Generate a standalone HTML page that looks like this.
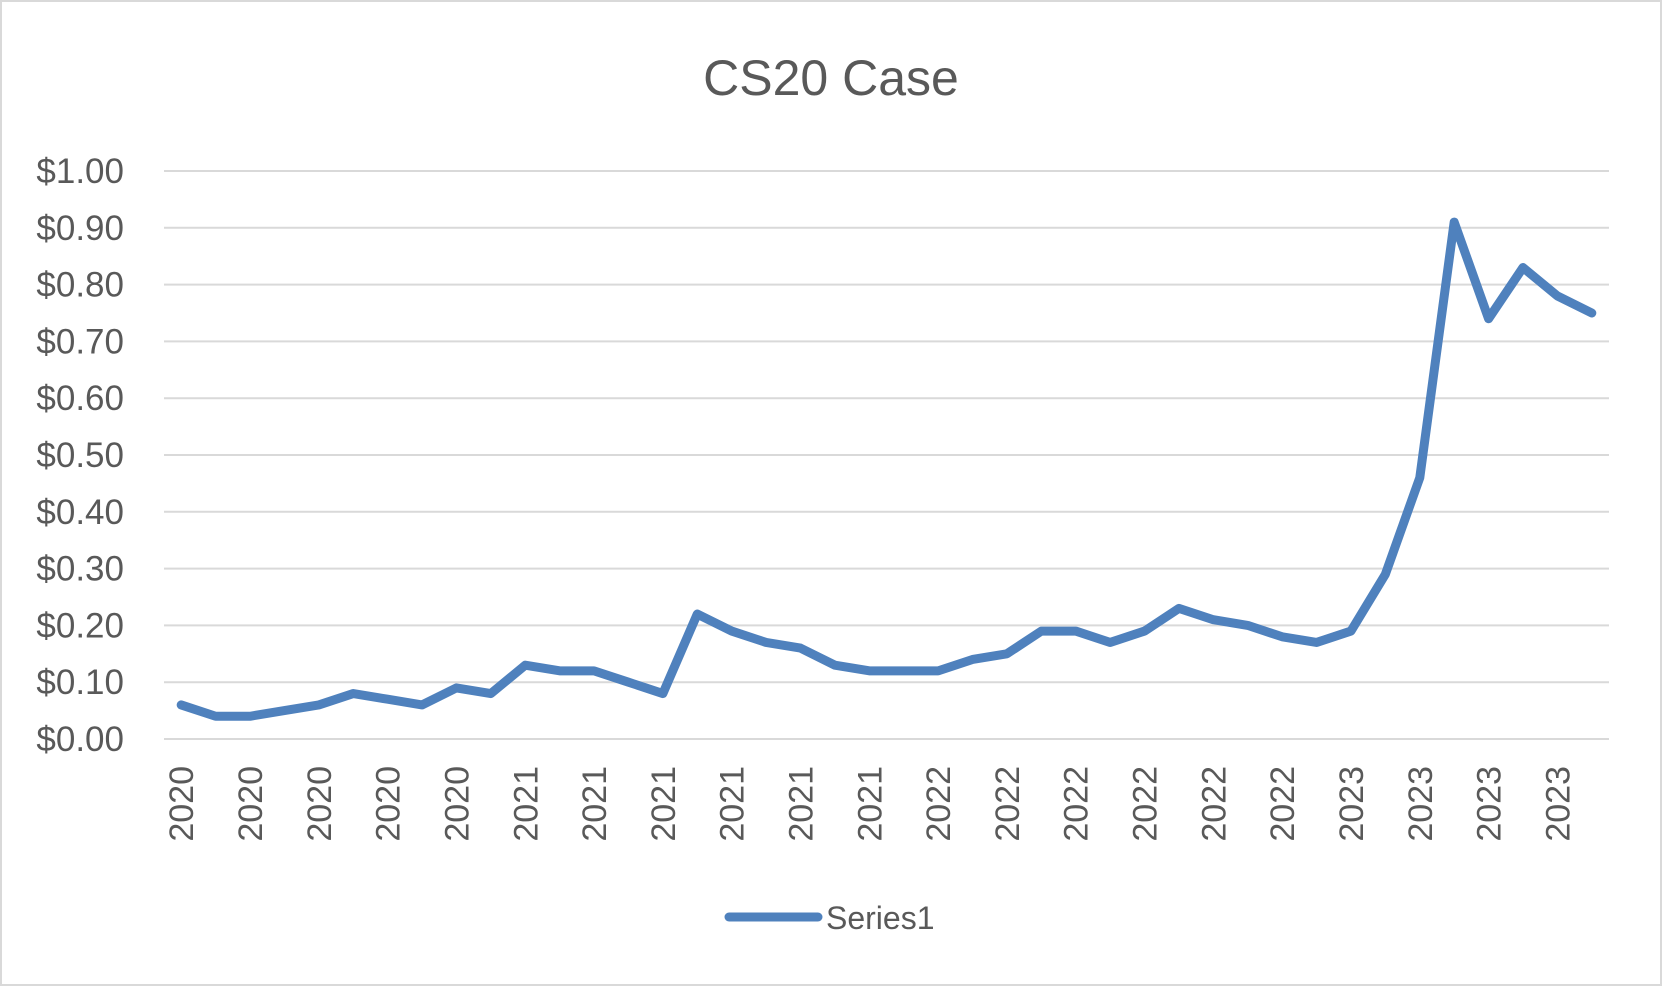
<!DOCTYPE html>
<html><head><meta charset="utf-8"><style>
html,body{margin:0;padding:0;background:#fff;}
svg{display:block;font-family:"Liberation Sans",Calibri,sans-serif;}
</style></head><body>
<svg id="chart" width="1662" height="986" xmlns="http://www.w3.org/2000/svg">
<rect x="1" y="1" width="1660" height="984" fill="#fff" stroke="#d9d9d9" stroke-width="2"/>
<text x="831" y="95" text-anchor="middle" font-size="50" fill="#595959">CS20 Case</text>
<g id="grid"></g><g id="yaxis"></g><g id="xaxis"></g><g id="series"></g>
<g>
<line x1="729" y1="917" x2="818" y2="917" stroke="#4f81bd" stroke-width="9" stroke-linecap="round"/>
<text x="826" y="929" font-size="32" fill="#595959">Series1</text>
</g>
</svg>
<script>
const categories=["2020","2020","2020","2020","2020","2020","2020","2020","2020","2020","2021","2021","2021","2021","2021","2021","2021","2021","2021","2021","2021","2021","2022","2022","2022","2022","2022","2022","2022","2022","2022","2022","2022","2022","2023","2023","2023","2023","2023","2023","2023","2023"];
const values=[0.06,0.04,0.04,0.05,0.06,0.08,0.07,0.06,0.09,0.08,0.13,0.12,0.12,0.10,0.08,0.22,0.19,0.17,0.16,0.13,0.12,0.12,0.12,0.14,0.15,0.19,0.19,0.17,0.19,0.23,0.21,0.20,0.18,0.17,0.19,0.29,0.46,0.91,0.74,0.83,0.78,0.75];
const yTicks=[0,0.1,0.2,0.3,0.4,0.5,0.6,0.7,0.8,0.9,1.0];
const yTickLabels=["$0.00","$0.10","$0.20","$0.30","$0.40","$0.50","$0.60","$0.70","$0.80","$0.90","$1.00"];
const NS="http://www.w3.org/2000/svg";
const L=164,R=1609,T=171,B=739;
const band=(R-L)/categories.length;
const x=i=>L+band*(i+0.5);
const y=v=>B-(v/1.0)*(B-T);
function mk(t,a,p){const e=document.createElementNS(NS,t);for(const k in a)e.setAttribute(k,a[k]);p.appendChild(e);return e;}
const grid=document.getElementById('grid'),ya=document.getElementById('yaxis'),xa=document.getElementById('xaxis'),se=document.getElementById('series');
yTicks.forEach((v,i)=>{
 const g=mk('line',{x1:L,x2:R,y1:y(v),y2:y(v),stroke:'#d9d9d9','stroke-width':2},grid);
 
 
 const t=mk('text',{x:124,y:y(v)+12,'text-anchor':'end','font-size':35,fill:'#595959'},ya);
 t.textContent=yTickLabels[i];
 
 
});
categories.forEach((c,i)=>{
 if(i%2!==0)return;
 const t=mk('text',{x:0,y:0,'text-anchor':'end','font-size':34,fill:'#595959',transform:`translate(${x(i)+12},766) rotate(-90)`},xa);
 t.textContent=c;
 
 
});
const p=mk('polyline',{points:values.map((v,i)=>x(i)+','+y(v)).join(' '),fill:'none',stroke:'#4f81bd','stroke-width':9,'stroke-linejoin':'round','stroke-linecap':'round'},se);


</script>
</body></html>
